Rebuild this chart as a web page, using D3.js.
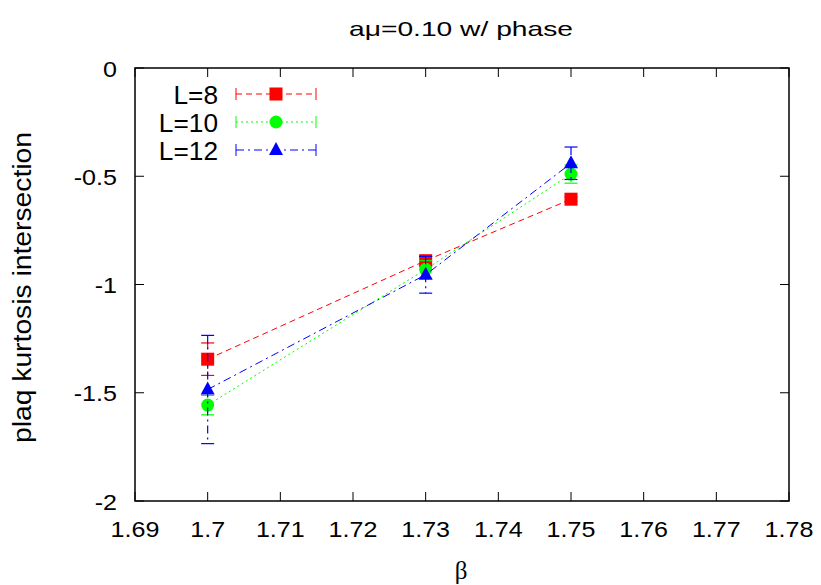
<!DOCTYPE html>
<html><head><meta charset="utf-8">
<script src="https://cdn.jsdelivr.net/npm/d3@7"></script>
<style>body{margin:0;background:#fff}svg{display:block}text{font-family:"Liberation Sans",Helvetica,Arial,sans-serif}</style>
</head><body><svg id="c" width="821" height="585"></svg>
<script>
const betas = [1.70, 1.73, 1.75];
const seriesNames = ["L=8", "L=10", "L=12"];
const valuesL8 = [-1.345, -0.89, -0.606];
const errorsL8 = [0.075, 0.02, 0.01];
const valuesL10 = [-1.557, -0.93, -0.49];
const errorsL10 = [0.045, 0.04, 0.042];
const valuesL12 = [-1.485, -0.955, -0.44];
const errorsL12 = [0.25, 0.085, 0.075];
const xTicks = [1.69,1.70,1.71,1.72,1.73,1.74,1.75,1.76,1.77,1.78];
const yTicks = [0,-0.5,-1,-1.5,-2];
const titleText = "a\u03bc=0.10 w/ phase";
const xLabel = "\u03b2";
const yLabel = "plaq kurtosis intersection";

const series = [
  {name: seriesNames[0], v: valuesL8, e: errorsL8, color: "#ff0000", dash: "6,4", marker: "square"},
  {name: seriesNames[1], v: valuesL10, e: errorsL10, color: "#00ff00", dash: "2,3", marker: "circle"},
  {name: seriesNames[2], v: valuesL12, e: errorsL12, color: "#0000ff", dash: "8,4,2,4", marker: "triangle"}
];

const svg = d3.select("#c");
const L = 135, R = 789, T = 68, B = 501;
const x = d3.scaleLinear().domain([1.69, 1.78]).range([L, R]);
const y = d3.scaleLinear().domain([-2, 0]).range([B, T]);
const fmtX = d => (d === 1.7 ? "1.7" : d3.format(".2f")(d));
const fmtY = d => (d === 0 ? "0" : String(d));

function stretch(sel, k) {
  sel.each(function () {
    const w = this.getComputedTextLength();
    d3.select(this).attr("textLength", w * k).attr("lengthAdjust", "spacingAndGlyphs");
  });
  return sel;
}

const tl = 9;
const g = svg.append("g");
xTicks.forEach(t => {
  g.append("line").attr("x1", x(t)).attr("x2", x(t)).attr("y1", B).attr("y2", B - tl).attr("stroke", "#000");
  g.append("line").attr("x1", x(t)).attr("x2", x(t)).attr("y1", T).attr("y2", T + tl).attr("stroke", "#000");
  stretch(g.append("text").attr("x", x(t)).attr("y", 537).attr("text-anchor", "middle").attr("font-size", 22).text(fmtX(t)), 1.14);
});
yTicks.forEach(t => {
  g.append("line").attr("x1", L).attr("x2", L + tl).attr("y1", y(t)).attr("y2", y(t)).attr("stroke", "#000");
  g.append("line").attr("x1", R).attr("x2", R - tl).attr("y1", y(t)).attr("y2", y(t)).attr("stroke", "#000");
  stretch(g.append("text").attr("x", 117).attr("y", y(t) + 8.5).attr("text-anchor", "end").attr("font-size", 22).text(fmtY(t)), 1.14);
});
svg.append("rect").attr("x", L).attr("y", T).attr("width", R - L).attr("height", B - T)
  .attr("fill", "none").attr("stroke", "#000").attr("stroke-width", 1.5);

const tt = svg.append("text").attr("x", 461).attr("y", 36).attr("text-anchor", "middle").attr("font-size", 21).text(titleText);
tt.attr("textLength", 224).attr("lengthAdjust", "spacingAndGlyphs");
svg.append("text").attr("x", 461).attr("y", 579).attr("text-anchor", "middle").attr("font-size", 25)
  .style("font-family", "'Liberation Serif','DejaVu Serif',serif").text(xLabel);
const yl = svg.append("text").attr("transform", `translate(31,${(T + B) / 2 + 3}) rotate(-90)`).attr("text-anchor", "middle")
  .attr("font-size", 25).text(yLabel);
yl.attr("textLength", 311).attr("lengthAdjust", "spacingAndGlyphs");

function marker(sel, s, cx, cy) {
  if (s.marker === "square") sel.append("rect").attr("x", cx - 6.5).attr("y", cy - 6.5).attr("width", 13).attr("height", 13).attr("fill", s.color);
  else if (s.marker === "circle") sel.append("circle").attr("cx", cx).attr("cy", cy).attr("r", 6.5).attr("fill", s.color);
  else sel.append("path").attr("d", `M${cx},${cy - 8}L${cx + 7},${cy + 5}L${cx - 7},${cy + 5}Z`).attr("fill", s.color);
}

const line = d3.line().x(d => x(d[0])).y(d => y(d[1]));
const cw = 6.5;
series.forEach(s => {
  const gg = svg.append("g");
  const pts = betas.map((b, i) => [b, s.v[i], s.e[i]]);
  gg.append("path").attr("d", line(pts)).attr("fill", "none").attr("stroke", s.color).attr("stroke-width", 1).attr("stroke-dasharray", s.dash);
  pts.forEach(p => {
    const px = x(p[0]), y1 = y(p[1] + p[2]), y2 = y(p[1] - p[2]);
    gg.append("line").attr("x1", px).attr("x2", px).attr("y1", y1).attr("y2", y2).attr("stroke", s.color).attr("stroke-width", 1.2).attr("stroke-dasharray", s.dash);
    [y1, y2].forEach(yy => gg.append("line").attr("x1", px - cw).attr("x2", px + cw).attr("y1", yy).attr("y2", yy).attr("stroke", s.color).attr("stroke-width", 1.2));
    marker(gg, s, px, y(p[1]));
  });
});

const legY = [94, 122, 150];
series.forEach((s, i) => {
  const ly = legY[i];
  stretch(svg.append("text").attr("x", 218).attr("y", ly + 9.5).attr("text-anchor", "end").attr("font-size", 25).text(s.name), 1.05);
  svg.append("line").attr("x1", 236).attr("x2", 316).attr("y1", ly).attr("y2", ly).attr("stroke", s.color).attr("stroke-dasharray", s.dash);
  [236, 316].forEach(xx => svg.append("line").attr("x1", xx).attr("x2", xx).attr("y1", ly - 6).attr("y2", ly + 6).attr("stroke", s.color));
  marker(svg, s, 276, ly);
});
</script></body></html>
